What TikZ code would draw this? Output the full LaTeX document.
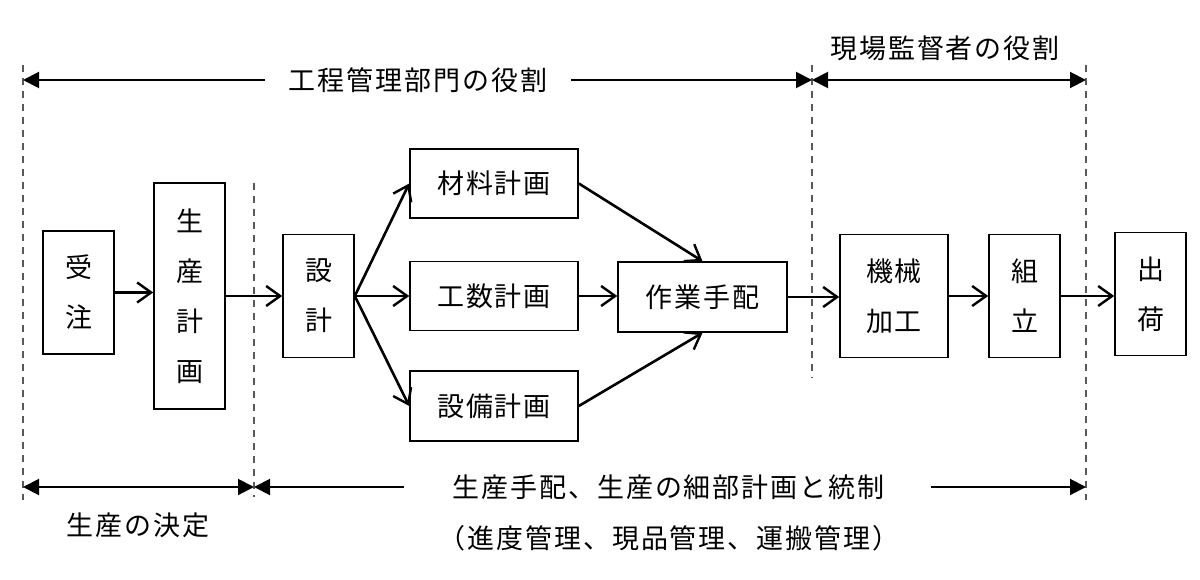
\documentclass[tikz,border=0pt]{standalone}
\usepackage{fontspec}
\setmainfont[LetterSpace=7]{Noto Sans CJK JP}
\usetikzlibrary{arrows.meta}
\begin{document}
\begin{tikzpicture}[x=1pt,y=-1pt,
  box/.style={draw, line width=1.6pt, inner sep=0pt, align=center,
    font=\fontsize{27}{50}\selectfont},
  flow/.style={line width=2.6pt, -{Straight Barb[length=14pt,width=20pt,line width=2.4pt]}},
  dimr/.style={line width=2pt, -{Triangle[length=16pt,width=16pt]}},
  diml/.style={line width=2pt, {Triangle[length=16pt,width=16pt]}-},
  dimb/.style={line width=2pt, {Triangle[length=16pt,width=16pt]}-{Triangle[length=16pt,width=16pt]}},
  guide/.style={line width=1.3pt, draw=black!65, dash pattern=on 7pt off 6pt},
  lbl/.style={font=\fontsize{27}{30}\selectfont, inner sep=0pt}]
\useasboundingbox (0,0) rectangle (1200,580);

% guide lines
\draw[guide] (23,65) -- (23,500);
\draw[guide] (254,183) -- (254,497);
\draw[guide] (812,65) -- (812,378);
\draw[guide] (1086,65) -- (1086,500);

% boxes
\node[box, minimum width=71pt, minimum height=123pt] (juchu) at (78.5,292.5) {受\\注};
\node[box, minimum width=71pt, minimum height=226pt] (seisan) at (189.5,296) {生\\産\\計\\画};
\node[box, minimum width=71pt, minimum height=123pt] (sekkei) at (318.5,296) {設\\計};
\node[box, minimum width=168pt, minimum height=69pt] (zairyo) at (494,183.5) {材料計画};
\node[box, minimum width=168pt, minimum height=69pt] (kosu) at (494,296) {工数計画};
\node[box, minimum width=168pt, minimum height=70pt] (setsubi) at (494,406) {設備計画};
\node[box, minimum width=169pt, minimum height=70pt] (sagyo) at (702.5,297) {作業手配};
\node[box, minimum width=108pt, minimum height=123pt] (kikai) at (894,296) {機械\\加工};
\node[box, minimum width=71pt, minimum height=123pt] (kumi) at (1024.5,296) {組\\立};
\node[box, minimum width=71pt, minimum height=123pt] (shukka) at (1150.5,294) {出\\荷};

% flow arrows
\draw[flow] (juchu.east) -- (juchu.east -| seisan.west);
\draw[flow] (seisan.east |- sekkei.east) -- (sekkei.west);
\draw[flow] (sekkei.east) -- (zairyo.west);
\draw[flow] (sekkei.east) -- (kosu.west);
\draw[flow] (sekkei.east) -- (setsubi.west);
\draw[flow] (kosu.east) -- (kosu.east -| sagyo.west);
\draw[flow] (zairyo.east) -- (sagyo.north);
\draw[flow] (setsubi.east) -- (sagyo.south);
\draw[flow] (sagyo.east) -- (sagyo.east -| kikai.west);
\draw[flow] (kikai.east) -- (kumi.west);
\draw[flow] (kumi.east) -- (kumi.east -| shukka.west);

% top dimension
\node[lbl] (koutei) at (418,80) {工程管理部門の役割};
\node[lbl] (genba) at (945,48) {現場監督者の役割};
\coordinate (tl) at (23,80);
\coordinate (tm) at (812,80);
\coordinate (tr) at (1086,80);
\draw[diml] (tl) -- ([xshift=-24pt]koutei.west);
\draw[dimr] ([xshift=24pt]koutei.east) -- (tm);
\draw[dimb] (tm) -- (tr);

% bottom dimension
\node[lbl] (kettei) at (138,525) {生産の決定};
\node[lbl] (tehai) at (668.5,487) {生産手配、生産の細部計画と統制};
\node[lbl] (kanri) at (669,538) {（進度管理、現品管理、運搬管理）};
\coordinate (bl) at (23,487);
\coordinate (bm) at (254,487);
\coordinate (br) at (1086,487);
\draw[dimb] (bl) -- (bm);
\draw[diml] (bm) -- ([xshift=-49pt]tehai.west);
\draw[dimr] ([xshift=47pt]tehai.east) -- (br);
\end{tikzpicture}
\end{document}
